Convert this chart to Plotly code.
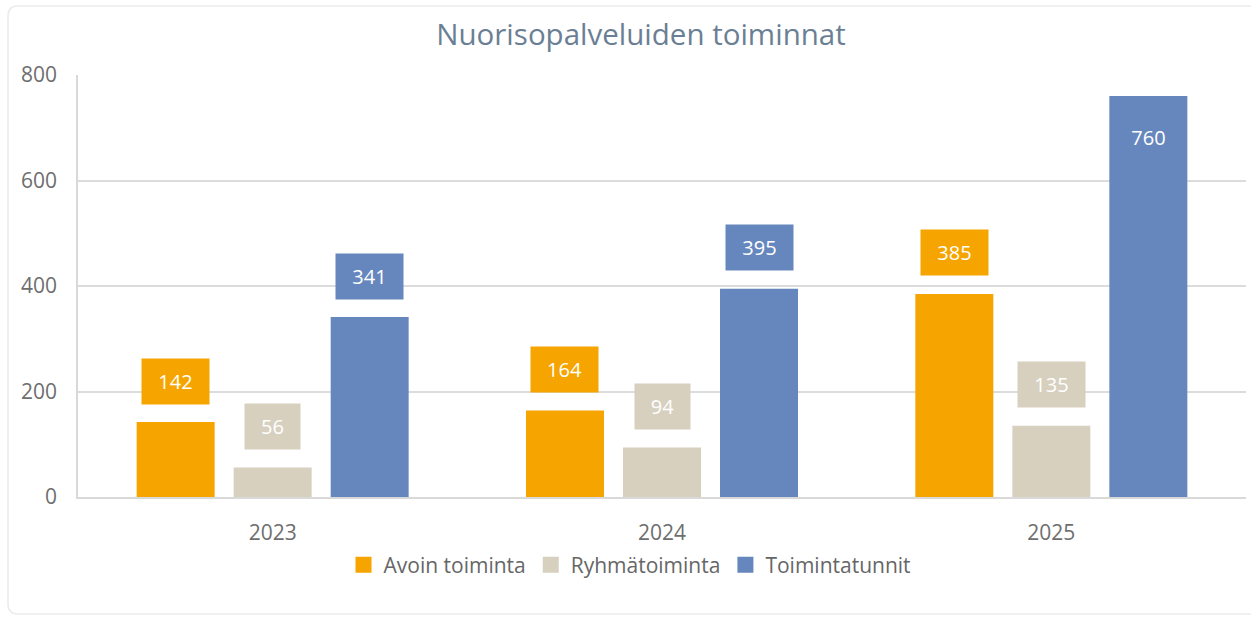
import plotly.graph_objects as go

years = ["2023", "2024", "2025"]
series_names = ["Avoin toiminta", "Ryhmätoiminta", "Toimintatunnit"]
avoin = [142, 164, 385]
ryhma = [56, 94, 135]
tunnit = [341, 395, 760]
series_values = [avoin, ryhma, tunnit]
colors = ["#F6A500", "#D7D0BF", "#6687BD"]
y_ticks = [0, 200, 400, 600, 800]

W, H = 1251, 619
ML, MR, MT, MB = 78, 5, 75, 122
PW, PH = W - ML - MR, H - MT - MB
YMAX = 800
BARGAP = 0.2525
BARGROUPGAP = 0.196
FONT = "Open Sans"

fig = go.Figure()
for name, vals, col in zip(series_names, series_values, colors):
    fig.add_trace(go.Bar(x=years, y=vals, name=name, marker=dict(color=col, line=dict(width=0)),
                         showlegend=False, hoverinfo="x+y"))
for name, col in zip(series_names, colors):
    fig.add_trace(go.Scatter(x=[None], y=[None], mode="markers", name=name,
                             marker=dict(symbol="square", size=16, color=col)))

annotations = []
slot = (1 - BARGAP) / len(series_values)
for j, (vals, col) in enumerate(zip(series_values, colors)):
    for i, v in enumerate(vals):
        txt = str(v)
        bw = 12 * len(txt) + 31
        bar_px = v / YMAX * PH
        shift = 41 if bar_px + 41 + 23 <= PH else -41
        annotations.append(dict(
            x=i + (j - 1) * slot, y=v, xref="x", yref="y", text=txt, showarrow=False,
            yshift=shift, xanchor="center", yanchor="middle",
            width=bw, height=45, bgcolor=col, borderpad=0,
            font=dict(family=FONT, size=20, color="white")))

# card outline
x0, x1 = (8 - ML) / PW, (1262 - ML) / PW
y0, y1 = (MT + PH - 614) / PH, (MT + PH - 6) / PH
rx, ry = 10 / PW, 10 / PH
card = (f"M{x0+rx},{y1} L{x1},{y1} L{x1},{y0} L{x0+rx},{y0} "
        f"Q{x0},{y0} {x0},{y0+ry} L{x0},{y1-ry} Q{x0},{y1} {x0+rx},{y1} Z")

fig.update_layout(
    width=W, height=H,
    margin=dict(l=ML, r=MR, t=MT, b=MB, pad=0),
    paper_bgcolor="white", plot_bgcolor="white",
    barmode="group", bargap=BARGAP, bargroupgap=BARGROUPGAP,
    title=dict(text="Nuorisopalveluiden toiminnat", x=641 / W, xanchor="center",
               y=1 - 35 / H, yanchor="middle", xref="container", yref="container",
               font=dict(family=FONT, size=29.5, color="#6B7F94")),
    font=dict(family=FONT, size=21, color="#6E6E6E"),
    legend=dict(orientation="h", x=(630 - ML) / PW, xanchor="center",
                y=(MT + PH - 565) / PH, yanchor="middle",
                font=dict(family=FONT, size=21, color="#666666"),
                itemclick=False, itemdoubleclick=False, tracegroupgap=0),
    annotations=annotations,
    shapes=[dict(type="path", path=card, xref="paper", yref="paper",
                 line=dict(color="#EBEBEB", width=1.5), layer="below")],
    showlegend=True,
)
fig.update_xaxes(type="category", showgrid=False, showline=True, linecolor="#D9D9D9", linewidth=1.5,
                 ticks="", ticklabelstandoff=16, tickfont=dict(family=FONT, size=21, color="#6E6E6E"),
                 fixedrange=True)
fig.update_yaxes(range=[0, YMAX], tickvals=y_ticks, showgrid=True, gridcolor="#DCDCDC", gridwidth=1.5,
                 showline=True, linecolor="#D9D9D9", linewidth=1.5, zeroline=False,
                 ticks="", ticklabelstandoff=15, tickfont=dict(family=FONT, size=21, color="#6E6E6E"),
                 fixedrange=True)

fig.write_html("out.html", config={"displayModeBar": False},
               post_script="document.body.style.margin='0';document.body.style.overflow='hidden';")
